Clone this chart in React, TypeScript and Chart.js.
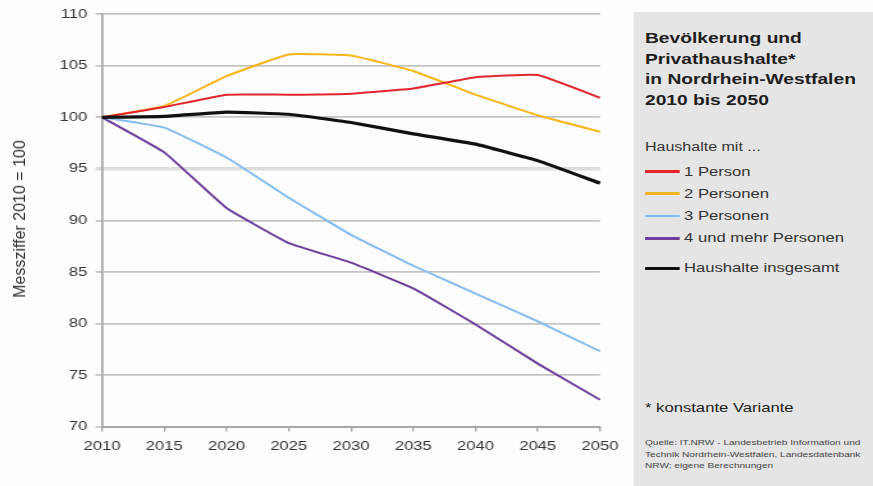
import React, { useEffect, useRef } from "react";
import { Chart, registerables } from "chart.js";

Chart.register(...registerables);

const years = ["2010", "2015", "2020", "2025", "2030", "2035", "2040", "2045", "2050"];
const onePerson = [100, 101.0, 102.2, 102.2, 102.3, 102.8, 103.9, 104.1, 101.9];
const twoPersons = [100, 101.1, 104.0, 106.1, 106.0, 104.5, 102.2, 100.2, 98.6];
const threePersons = [100, 99.0, 96.1, 92.2, 88.6, 85.6, 82.9, 80.2, 77.3];
const fourPlus = [100, 96.6, 91.2, 87.8, 85.9, 83.4, 79.9, 76.1, 72.6];
const total = [100, 100.1, 100.5, 100.3, 99.5, 98.4, 97.4, 95.8, 93.6];

const seriesLabels = ["1 Person", "2 Personen", "3 Personen", "4 und mehr Personen", "Haushalte insgesamt"];
const seriesColors = ["#e2262c", "#f8b61a", "#86bdef", "#6d3f9b", "#111111"];
const yMin = 70;
const yMax = 110;
const yStep = 5;

const FONT = "'Liberation Sans', Arial, Helvetica, sans-serif";
const S = 1.28; // horizontal stretch of the reference

export default function App() {
  const canvasRef = useRef<HTMLCanvasElement | null>(null);

  useEffect(() => {
    const canvas = canvasRef.current;
    if (!canvas) return;
    const values = [onePerson, twoPersons, threePersons, fourPlus, total];
    const datasets = values.map((data, i) => ({
      label: seriesLabels[i],
      data,
      borderColor: seriesColors[i],
      backgroundColor: seriesColors[i],
      borderWidth: i === 4 ? 3.2 : 2,
      pointRadius: 0,
      tension: 0.1,
      fill: false,
      order: i === 4 ? 0 : 1,
    }));
    const chart = new Chart(canvas, {
      type: "line",
      data: { labels: years, datasets },
      options: {
        animation: false,
        responsive: true,
        maintainAspectRatio: false,
        layout: { padding: { top: 14, right: 23.25, bottom: 0, left: 0 } },
        plugins: { legend: { display: false }, tooltip: { enabled: false } },
        scales: {
          x: {
            type: "category",
            offset: false,
            afterFit: (scale: any) => {
              scale.height = 59.5;
            },
            grid: {
              display: true,
              drawOnChartArea: false,
              drawTicks: true,
              tickLength: 5,
              color: "#a8a8a8",
              lineWidth: 1.4,
            },
            border: { display: true, color: "#a8a8a8", width: 2 },
            ticks: {
              autoSkip: false,
              maxRotation: 0,
              padding: 7,
              color: "#333",
              font: { family: FONT, size: 13 },
            },
          },
          y: {
            min: yMin,
            max: yMax,
            afterFit: (scale: any) => {
              scale.width = 79.7;
            },
            grid: {
              drawTicks: true,
              tickLength: 5,
              color: (ctx: any) => (ctx.tick && ctx.tick.value === 95 ? "#dddddd" : "#c4c4c4"),
              lineWidth: (ctx: any) => (ctx.tick && ctx.tick.value === 95 ? 3.5 : 1.8),
            },
            border: { display: true, color: "#a8a8a8", width: 1.8 },
            ticks: {
              stepSize: yStep,
              padding: 6.5,
              color: "#333",
              font: { family: FONT, size: 13 },
            },
          },
        },
      },
    });
    return () => chart.destroy();
  }, []);

  const panelTop = 12;
  const legendCenters = [171.7, 193.5, 216, 238.3, 268.3];
  const titleLines = ["Bevölkerung und", "Privathaushalte*", "in Nordrhein-Westfalen", "2010 bis 2050"];
  const sourceLines = [
    "Quelle: IT.NRW - Landesbetrieb Information und",
    "Technik Nordrhein-Westfalen, Landesdatenbank",
    "NRW; eigene Berechnungen",
  ];

  return (
    <div
      style={{
        position: "fixed",
        left: 0,
        top: 0,
        width: 873,
        height: 486,
        background: "#fdfdfd",
        overflow: "hidden",
        fontFamily: FONT,
      }}
    >
      <div
        style={{
          position: "absolute",
          left: 0,
          top: 0,
          width: 873 / S,
          height: 486,
          transform: `scaleX(${S})`,
          transformOrigin: "0 0",
        }}
      >
        <div style={{ position: "absolute", left: 0, top: 0, width: 492, height: 486 }}>
          <canvas ref={canvasRef} />
        </div>
        <div
          style={{
            position: "absolute",
            left: 634 / S,
            top: panelTop,
            width: (873 - 634) / S + 2,
            height: 486 - panelTop,
            background: "#e5e5e5",
          }}
        >
          {titleLines.map((t, i) => (
            <div
              key={t}
              style={{
                position: "absolute",
                left: 8.6,
                top: 38 + i * 20.7 - 10 - panelTop,
                lineHeight: "20px",
                fontSize: 15,
                fontWeight: "bold",
                color: "#1e1e1e",
                whiteSpace: "nowrap",
              }}
            >
              {t}
            </div>
          ))}
          <div
            style={{
              position: "absolute",
              left: 8.6,
              top: 147 - 8 - panelTop,
              lineHeight: "16px",
              fontSize: 12.5,
              color: "#333",
              whiteSpace: "nowrap",
            }}
          >
            Haushalte mit ...
          </div>
          {seriesLabels.map((lab, i) => (
            <div
              key={lab}
              style={{
                position: "absolute",
                left: 8.6,
                top: legendCenters[i] - 8 - panelTop,
                height: 16,
                display: "flex",
                alignItems: "center",
                whiteSpace: "nowrap",
              }}
            >
              <div
                style={{
                  width: 27.3,
                  height: i === 4 ? 3.5 : 2.5,
                  background: seriesColors[i],
                  marginRight: 3.2,
                }}
              />
              <span style={{ fontSize: 13, lineHeight: "16px", color: "#333" }}>{lab}</span>
            </div>
          ))}
          <div
            style={{
              position: "absolute",
              left: 8.6,
              top: 408 - 8 - panelTop,
              lineHeight: "16px",
              fontSize: 13,
              color: "#222",
              whiteSpace: "nowrap",
            }}
          >
            * konstante Variante
          </div>
          {sourceLines.map((s, i) => (
            <div
              key={s}
              style={{
                position: "absolute",
                left: 8.6,
                top: 443 + i * 11.5 - 5.75 - panelTop,
                lineHeight: "11.5px",
                fontSize: 7.9,
                color: "#444",
                whiteSpace: "nowrap",
              }}
            >
              {s}
            </div>
          ))}
        </div>
      </div>
      <div
        style={{
          position: "absolute",
          left: 20,
          top: 219,
          transform: "translate(-50%, -50%) rotate(-90deg)",
          fontSize: 16,
          color: "#333",
          whiteSpace: "nowrap",
          lineHeight: "18px",
        }}
      >
        Messziffer 2010 = 100
      </div>
    </div>
  );
}
